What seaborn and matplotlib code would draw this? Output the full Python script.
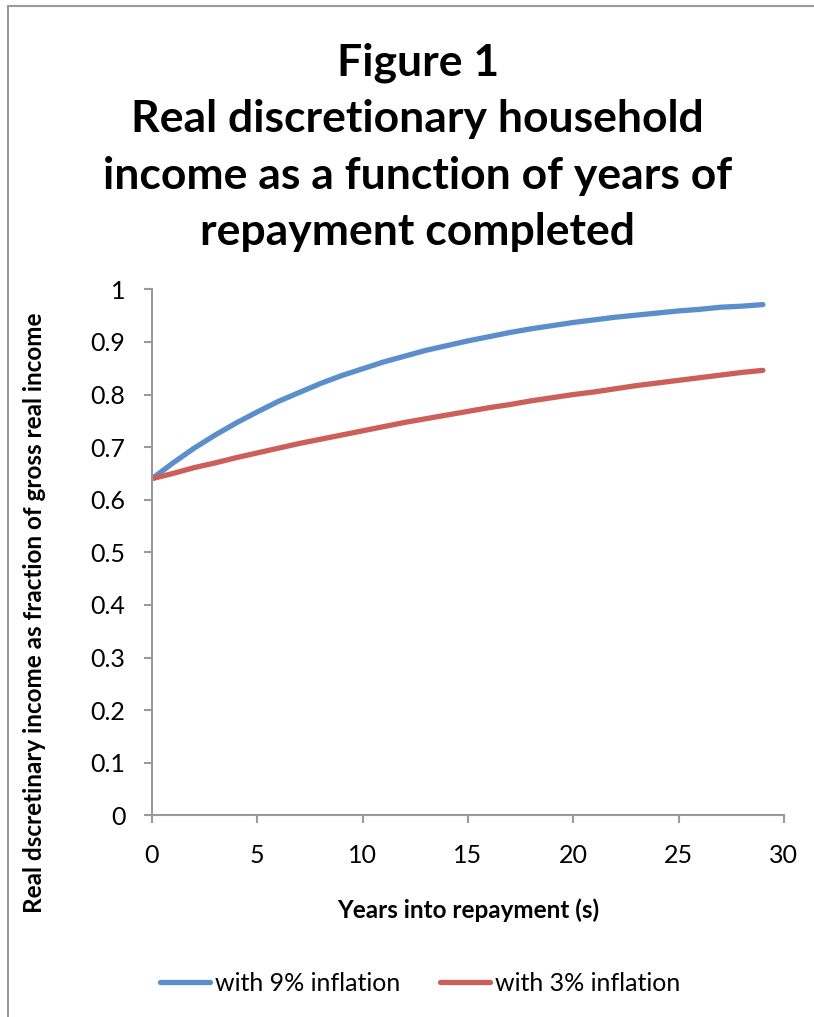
import matplotlib
matplotlib.use("Agg")
import matplotlib.pyplot as plt
from matplotlib.lines import Line2D
import seaborn as sns
import pandas as pd

# === data ===
years = list(range(0, 30))
inflation_9 = [0.640, 0.670, 0.698, 0.723, 0.746, 0.767, 0.787, 0.804, 0.821, 0.836,
               0.849, 0.862, 0.873, 0.884, 0.893, 0.902, 0.910, 0.918, 0.925, 0.931,
               0.937, 0.942, 0.947, 0.951, 0.955, 0.959, 0.962, 0.966, 0.968, 0.971]
inflation_3 = [0.640, 0.650, 0.661, 0.670, 0.680, 0.689, 0.698, 0.707, 0.715, 0.723,
               0.731, 0.739, 0.747, 0.754, 0.761, 0.768, 0.775, 0.781, 0.788, 0.794,
               0.800, 0.805, 0.811, 0.817, 0.822, 0.827, 0.832, 0.837, 0.842, 0.846]
series_names = ["with 9% inflation", "with 3% inflation"]
x_ticks = [0, 5, 10, 15, 20, 25, 30]
y_ticks = [0, 0.1, 0.2, 0.3, 0.4, 0.5, 0.6, 0.7, 0.8, 0.9, 1]
y_tick_labels = ["0", "0.1", "0.2", "0.3", "0.4", "0.5", "0.6", "0.7", "0.8", "0.9", "1"]

# long form frame for seaborn
df = pd.DataFrame({
    "Years": years * 2,
    "Value": inflation_9 + inflation_3,
    "Series": [series_names[0]] * len(years) + [series_names[1]] * len(years),
})

sns.set_style("white")
plt.rcParams["font.family"] = ["Lato", "DejaVu Sans"]
plt.rcParams["text.color"] = "black"

colors = {series_names[0]: "#5A8FCB", series_names[1]: "#CC5F5A"}
grey = "#9A9A9A"

fig = plt.figure(figsize=(8.14, 10.17), dpi=100)
ax = fig.add_axes([0.1867, 0.1983, 0.9631 - 0.1867, 0.7155 - 0.1983])

sns.lineplot(data=df, x="Years", y="Value", hue="Series", palette=colors,
             hue_order=series_names, linewidth=3.8, ax=ax, legend=False,
             solid_capstyle="round")

ax.set_xlim(0, 30)
ax.set_ylim(0, 1)
ax.set_xticks(x_ticks)
ax.set_yticks(y_ticks)
ax.set_yticklabels(y_tick_labels)

# excel-ish axes: left and bottom only, grey
for side in ["top", "right"]:
    ax.spines[side].set_visible(False)
for side in ["left", "bottom"]:
    ax.spines[side].set_color(grey)
    ax.spines[side].set_linewidth(1.5)
ax.tick_params(axis="both", direction="out", length=6, width=1.5, color=grey,
               labelsize=18, labelcolor="black", left=True, bottom=True)
ax.tick_params(axis="y", pad=13)
ax.tick_params(axis="x", pad=15)

ax.set_xlabel("Years into repayment (s)", fontsize=17.5, fontweight="bold", color="black")
ax.set_ylabel("Real dscretinary income as fraction of gross real income",
              fontsize=17.5, fontweight="bold", color="black")
ax.xaxis.set_label_coords(0.5, -0.158)
ax.yaxis.set_label_coords(-0.167, 0.385)

fig.text(0.513, 0.855,
         "Figure 1\nReal discretionary household\nincome as a function of years of\nrepayment completed",
         ha="center", va="center", fontsize=32, fontweight="bold", linespacing=1.5)

# legend under the plot
handles = [Line2D([0], [0], color=colors[n], lw=3.8, solid_capstyle="round") for n in series_names]
fig.legend(handles, series_names, loc="center", bbox_to_anchor=(0.516, 0.0334), ncol=2,
           frameon=False, fontsize=18, handlelength=2.0, handletextpad=0.2, columnspacing=1.6)

# chart frame (top and left edges visible)
fig.add_artist(Line2D([0.0098, 0.0098], [0, 0.9941], transform=fig.transFigure, color=grey, lw=1.5))
fig.add_artist(Line2D([0.0098, 1], [0.9941, 0.9941], transform=fig.transFigure, color=grey, lw=1.5))

fig.savefig("out.png", dpi=100)
